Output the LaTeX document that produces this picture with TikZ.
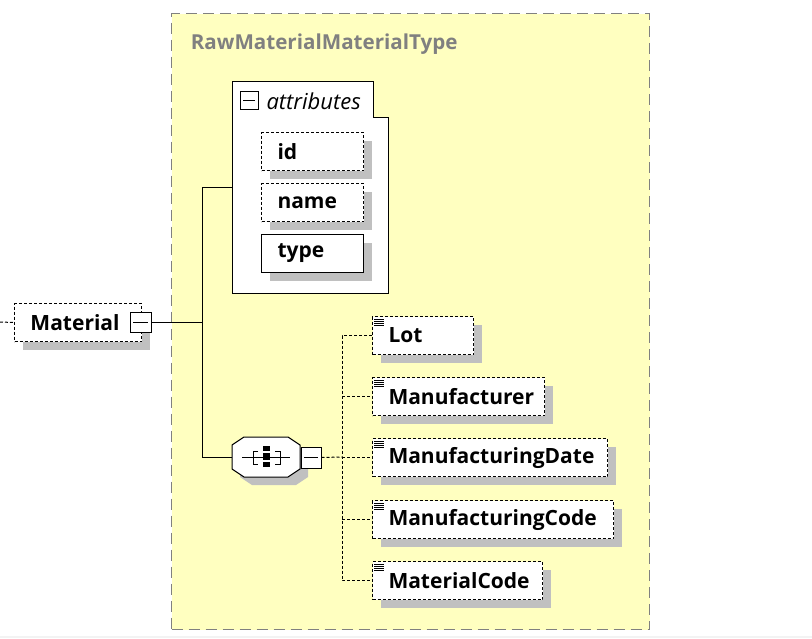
\documentclass[tikz,border=0pt]{standalone}
\usepackage{fontspec}
\setmainfont{Open Sans}
\usepackage{tikz}
\usetikzlibrary{calc,shadows}
\definecolor{typeyellow}{RGB}{255,255,192}
\definecolor{shadowgray}{RGB}{192,192,192}
\definecolor{titlegray}{RGB}{128,128,128}
\definecolor{stripgray}{RGB}{243,243,243}

\begin{document}
\begin{tikzpicture}[x=1pt,y=-1pt,line width=1pt]
      \tikzstyle{shade}=[drop shadow={fill=shadowgray,opacity=1,shadow xshift=8pt,shadow yshift=-8pt}]
      \tikzstyle{elem}=[draw,fill=white,shade,anchor=north west,inner xsep=0pt,inner ysep=0pt,minimum height=38pt,text width=#1,align=left,font=\bfseries\fontsize{21}{21}\selectfont,execute at begin node=\hspace*{16pt}]
      \tikzstyle{opt}=[dash pattern=on 3pt off 2pt]
      \tikzstyle{minus}=[draw,fill=white,inner sep=0pt,minimum width=20pt,minimum height=20pt,path picture={\draw ($(path picture bounding box.west)+(3pt,0)$) -- ($(path picture bounding box.east)+(-3pt,0)$);}]
      \tikzstyle{link}=[opt]
      %%% background
      \useasboundingbox (0,0) rectangle (812,638);
      \fill[stripgray] (0,636) rectangle (812,638);
      %%% complex type
      \node (cplx) at (171,13) [anchor=north west,draw=titlegray,fill=typeyellow,dash pattern=on 11pt off 6pt,line width=1.3pt,minimum width=478pt,minimum height=616pt] {};
      \node (title) at (187,44) [anchor=west,text=titlegray,font=\bfseries\fontsize{20.6}{21}\selectfont] {RawMaterialMaterialType};
      %%% Material
      \node (mat) at (14,303) [elem=127pt,opt] {Material};
      \node (matminus) at (140.5,322) [minus,minimum width=21pt] {};
      \coordinate (in) at (0,322);
      \draw[link] (in) -- (mat.west);
      %%% attributes
      \node (attr) at (232,81) [anchor=north west,minimum width=155pt,minimum height=211pt,inner sep=0pt] {};
      \draw[fill=white] (attr.north west) -- ++(141,0) -- ++(0,36) -| (attr.south east) -- (attr.south west) -- cycle;
      \node (attrminus) at (249,100) [minus,minimum width=18pt,minimum height=18pt] {};
      \node (attrtext) at (266,101) [anchor=west,inner sep=0pt,font=\itshape\fontsize{22}{22}\selectfont] {attributes};
      \node (id) at (261,132) [elem=102pt,opt] {id};
      \node (name) at (261,183) [elem=102pt,opt] {name};
      \node (type) at (261,234) [elem=102pt] {type};
      %%% sequence
      \node (seq) at (232,437) [anchor=north west,minimum width=68pt,minimum height=40pt,inner sep=0pt] {};
      \fill[shadowgray,shift={(8,8)}] (244,437) -- (288,437) -- (300,445) -- (300,469) -- (288,477) -- (244,477) -- (232,469) -- (232,445) -- cycle;
      \draw[fill=white] (244,437) -- (288,437) -- (300,445) -- (300,469) -- (288,477) -- (244,477) -- (232,469) -- (232,445) -- cycle;
      \draw (242,457) -- (290,457);
      \draw (258,451) -- (253,451) -- (253,464) -- (258,464);
      \draw (275,451) -- (280,451) -- (280,464) -- (275,464);
      \fill (263,446) rectangle (270,451);
      \fill (263,453) rectangle (270,460);
      \fill (263,462) rectangle (270,467);
      \node (seqminus) at (311,457.5) [minus,minimum height=21pt] {};
      %%% tree
      \coordinate (fork) at (202,322);
      \draw (matminus.east) -- (fork);
      \draw (fork) |- (attr.west);
      \draw (fork) |- (seq.west);
      %%% elements
      \node (lot) at (372,316) [elem=101pt,opt] {Lot};
      \node (mfr) at (372,377) [elem=172pt,opt] {Manufacturer};
      \node (mdate) at (372,438) [elem=235pt,opt] {ManufacturingDate};
      \node (mcode) at (372,500) [elem=241pt,opt] {ManufacturingCode};
      \node (matcode) at (372,561) [elem=170pt,opt] {MaterialCode};
      \coordinate (bus) at (342,457);
      \draw[link] (seqminus.east) -- (bus);
      \draw[link] (lot.west) -| (bus) |- (matcode.west);
      \foreach \n in {mfr,mdate,mcode}
        \draw[link] (bus |- \n.west) -- (\n.west);
      \foreach \n in {lot,mfr,mdate,mcode,matcode}
        \foreach \k in {3,5,7,9}
          \draw ($(\n.north west)+(2,\k)$) -- ++(10,0);
\end{tikzpicture}
\end{document}
